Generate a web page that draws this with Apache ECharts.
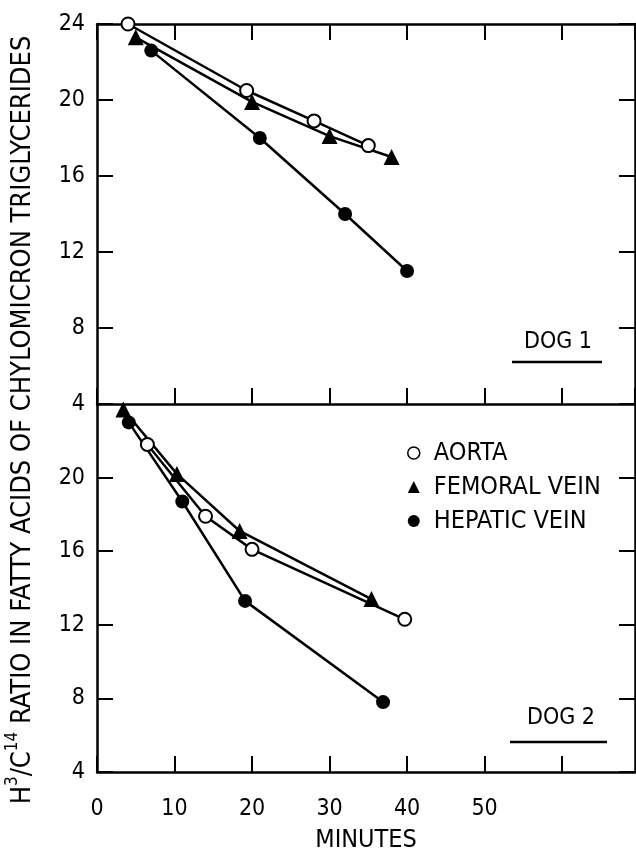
<!DOCTYPE html>
<html>
<head>
<meta charset="utf-8">
<script src="https://cdn.jsdelivr.net/npm/echarts@6/dist/echarts.min.js"></script>
<style>
  html, body { margin: 0; padding: 0; background: #fff; }
  #chart { width: 636px; height: 854px; }
</style>
</head>
<body>
<div id="chart"></div>
<script>
// axis ticks
const minuteLabels = [0, 10, 20, 30, 40, 50]
const ratioTicks = [4, 8, 12, 16, 20, 24]
const names = ['AORTA', 'FEMORAL VEIN', 'HEPATIC VEIN']

// DOG 1: [minutes, H3/C14 ratio]
const dog1Aorta = [[4, 24], [19.3, 20.5], [28, 18.9], [35, 17.6]]
const dog1Femoral = [[5, 23.3], [20, 19.9], [30, 18.1], [38, 17]]
const dog1Hepatic = [[7, 22.6], [21, 18], [32, 14], [40, 11]]

// DOG 2
const dog2Aorta = [[6.5, 21.8], [14, 17.9], [20, 16.1], [39.7, 12.3]]
const dog2Femoral = [[3.4, 23.7], [10.3, 20.2], [18.4, 17.1], [35.4, 13.4]]
const dog2Hepatic = [[4.1, 23], [11, 18.7], [19.1, 13.3], [36.9, 7.8]]

const FONT = "'DejaVu Sans Condensed', 'Liberation Sans Narrow', 'DejaVu Sans', sans-serif"
const X_MAX = 69.4

const chart = echarts.init(document.getElementById('chart'))

const line = { color: '#000', width: 2.5 }
const tick = { show: true, inside: true, length: 16, lineStyle: { color: '#000', width: 2 } }

const xAxisBase = (gridIndex, position, labels) => ({
  gridIndex,
  type: 'value',
  position,
  min: 0,
  max: X_MAX,
  interval: 10,
  axisLine: { show: true, onZero: false, lineStyle: line },
  axisTick: tick,
  splitLine: { show: false },
  axisLabel: labels
    ? {
        show: true,
        color: '#000',
        fontFamily: FONT,
        fontSize: 23,
        margin: 26,
        showMaxLabel: false,
        formatter: v => (minuteLabels.includes(v) ? String(v) : '')
      }
    : { show: false },
  name: labels ? 'MINUTES' : '',
  nameLocation: 'middle',
  nameGap: 56,
  nameTextStyle: { color: '#000', fontFamily: FONT, fontSize: 25 }
})

const yAxisBase = (gridIndex, position, hideTop) => ({
  gridIndex,
  type: 'value',
  position,
  min: ratioTicks[0],
  max: ratioTicks[ratioTicks.length - 1],
  interval: 4,
  axisLine: { show: true, onZero: false, lineStyle: line },
  axisTick: tick,
  splitLine: { show: false },
  axisLabel: position === 'left'
    ? {
        show: true,
        color: '#000',
        fontFamily: FONT,
        fontSize: 23,
        margin: 12,
        formatter: v => (hideTop && v === 24 ? '' : String(v))
      }
    : { show: false }
})

// series style per sample site
const styles = {
  'AORTA': { symbol: 'circle', symbolSize: 13, itemStyle: { color: '#fff', borderColor: '#000', borderWidth: 2 } },
  'FEMORAL VEIN': { symbol: 'triangle', symbolSize: 16, itemStyle: { color: '#000' } },
  'HEPATIC VEIN': { symbol: 'circle', symbolSize: 14, itemStyle: { color: '#000' } }
}

const makeSeries = (name, data, xAxisIndex, yAxisIndex, z) => ({
  name,
  type: 'line',
  data,
  xAxisIndex,
  yAxisIndex,
  z,
  symbol: styles[name].symbol,
  symbolSize: styles[name].symbolSize,
  itemStyle: styles[name].itemStyle,
  lineStyle: { color: '#000', width: 2.5 },
  showAllSymbol: true,
  animation: false
})

const option = {
  backgroundColor: '#fff',
  animation: false,
  grid: [
    { left: 97, top: 24, width: 538, height: 380 },
    { left: 97, top: 404, width: 538, height: 376 }
  ],
  xAxis: [
    xAxisBase(0, 'bottom', false),
    xAxisBase(0, 'top', false),
    xAxisBase(1, 'bottom', true)
  ],
  yAxis: [
    yAxisBase(0, 'left', false),
    yAxisBase(0, 'right', false),
    yAxisBase(1, 'left', true),
    yAxisBase(1, 'right', false)
  ],
  legend: {
    orient: 'vertical',
    left: 402,
    top: 435,
    itemWidth: 12,
    itemHeight: 12,
    itemGap: 8,
    selectedMode: false,
    textStyle: { color: '#000', fontFamily: FONT, fontSize: 25, lineHeight: 26, padding: [0, 0, 0, 9] },
    data: [
      { name: 'AORTA', icon: 'circle', itemStyle: { color: '#fff', borderColor: '#000', borderWidth: 1.5 } },
      { name: 'FEMORAL VEIN', icon: 'triangle', itemStyle: { color: '#000' } },
      { name: 'HEPATIC VEIN', icon: 'circle', itemStyle: { color: '#000' } }
    ]
  },
  series: [
    makeSeries(names[2], dog1Hepatic, 0, 0, 2),
    makeSeries(names[1], dog1Femoral, 0, 0, 3),
    makeSeries(names[0], dog1Aorta, 0, 0, 4),
    makeSeries(names[2], dog2Hepatic, 2, 2, 2),
    makeSeries(names[1], dog2Femoral, 2, 2, 3),
    makeSeries(names[0], dog2Aorta, 2, 2, 4)
  ],
  graphic: [
    {
      type: 'text',
      x: 20,
      y: 420,
      rotation: Math.PI / 2,
      style: {
        text: '{m|H}{s|3}{m|/C}{s|14}{m| RATIO IN FATTY ACIDS OF CHYLOMICRON TRIGLYCERIDES}',
        align: 'center',
        verticalAlign: 'middle',
        fill: '#000',
        rich: {
          m: { fontFamily: FONT, fontSize: 27, lineHeight: 32, verticalAlign: 'bottom', fill: '#000' },
          s: { fontFamily: FONT, fontSize: 17, lineHeight: 32, verticalAlign: 'top', fill: '#000' }
        }
      }
    },
    {
      type: 'text', x: 558, y: 342,
      style: { text: 'DOG 1', align: 'center', verticalAlign: 'middle', fill: '#000', fontFamily: FONT, fontSize: 23 }
    },
    { type: 'line', shape: { x1: 512, y1: 362, x2: 602, y2: 362 }, style: { stroke: '#000', lineWidth: 2.5 } },
    {
      type: 'text', x: 561, y: 718,
      style: { text: 'DOG 2', align: 'center', verticalAlign: 'middle', fill: '#000', fontFamily: FONT, fontSize: 23 }
    },
    { type: 'line', shape: { x1: 510, y1: 742, x2: 607, y2: 742 }, style: { stroke: '#000', lineWidth: 2.5 } }
  ]
}

chart.setOption(option)
</script>
</body>
</html>
